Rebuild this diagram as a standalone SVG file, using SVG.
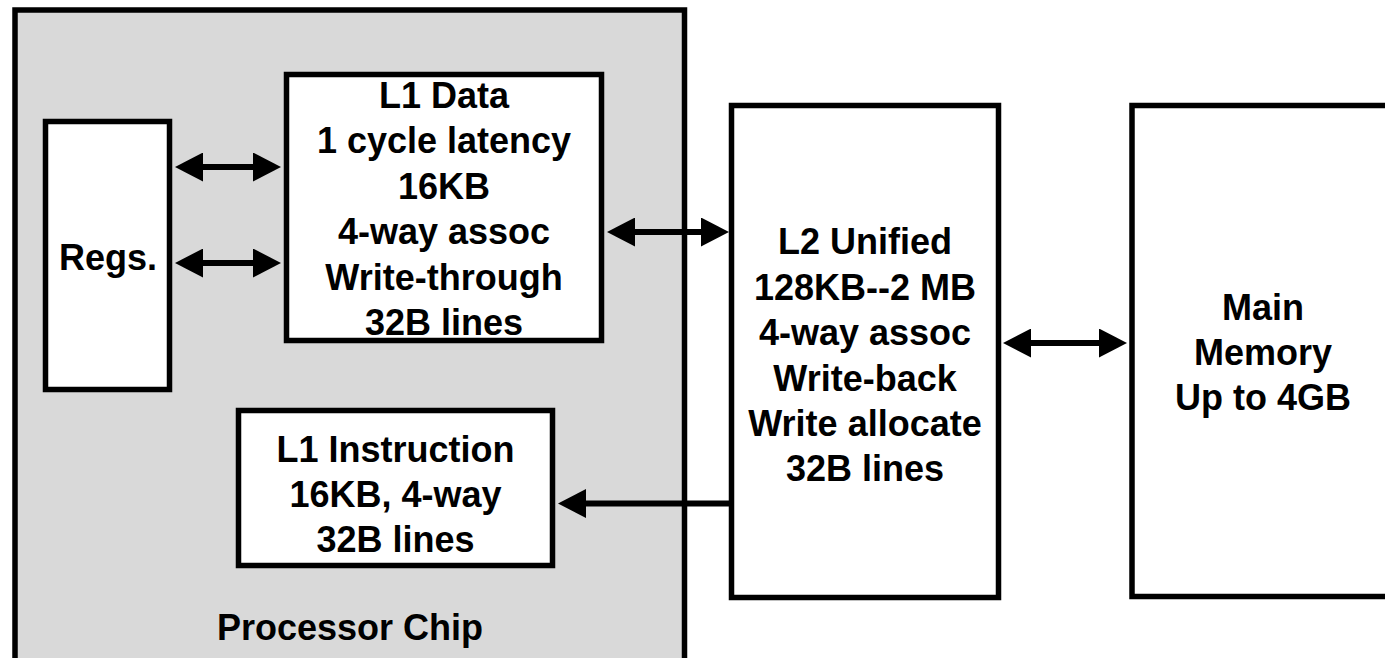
<svg xmlns="http://www.w3.org/2000/svg" width="1385" height="658" viewBox="0 0 1385 658">
  <style>
    .box { fill: #ffffff; stroke: #000000; stroke-width: 5.5; }
    .chip { fill: #d9d9d9; stroke: #000000; stroke-width: 5.5; }
    .lbl { font-family: "Liberation Sans", Arial, Helvetica, sans-serif; font-weight: bold; font-size: 36px; fill: #000000; text-anchor: middle; }
    .conn { stroke: #000000; stroke-width: 6; fill: none; }
  </style>
  <defs>
    <marker id="head" markerUnits="userSpaceOnUse" markerWidth="28" markerHeight="29" viewBox="0 0 28 29" refX="0" refY="14.5" orient="auto-start-reverse">
      <path d="M0,0 L28,14.5 L0,29 Z" fill="#000000"/>
    </marker>
  </defs>
  <rect width="1385" height="658" fill="#ffffff"/>
  <g id="processor-chip">
    <rect class="chip" x="15" y="10" width="669.5" height="700"/>
    <text class="lbl" x="350" y="640">Processor Chip</text>
  </g>
  <g id="regs">
    <rect class="box" x="45.5" y="121.5" width="124" height="268"/>
    <text class="lbl" x="108" y="270">Regs.</text>
  </g>
  <g id="l1-data">
    <rect class="box" x="286.5" y="74.5" width="315" height="266"/>
    <text class="lbl" x="444" y="108">L1 Data</text>
    <text class="lbl" x="444" y="153">1 cycle latency</text>
    <text class="lbl" x="444" y="198.5">16KB</text>
    <text class="lbl" x="444" y="244">4-way assoc</text>
    <text class="lbl" x="444" y="289.5">Write-through</text>
    <text class="lbl" x="444" y="335">32B lines</text>
  </g>
  <g id="l1-instruction">
    <rect class="box" x="238.5" y="410.5" width="314" height="155"/>
    <text class="lbl" x="395.5" y="462">L1 Instruction</text>
    <text class="lbl" x="395.5" y="507">16KB, 4-way</text>
    <text class="lbl" x="395.5" y="552">32B lines</text>
  </g>
  <g id="l2-unified">
    <rect class="box" x="731.5" y="105.5" width="267" height="492"/>
    <text class="lbl" x="865" y="254">L2 Unified</text>
    <text class="lbl" x="865" y="299.5">128KB--2 MB</text>
    <text class="lbl" x="865" y="345">4-way assoc</text>
    <text class="lbl" x="865" y="390.5">Write-back</text>
    <text class="lbl" x="865" y="436">Write allocate</text>
    <text class="lbl" x="865" y="481">32B lines</text>
  </g>
  <g id="main-memory">
    <rect class="box" x="1132" y="105.5" width="263" height="491"/>
    <text class="lbl" x="1263" y="320">Main</text>
    <text class="lbl" x="1263" y="365">Memory</text>
    <text class="lbl" x="1263" y="410">Up to 4GB</text>
  </g>
  <g id="connectors">
    <line class="conn" x1="203" y1="167" x2="253" y2="167" marker-start="url(#head)" marker-end="url(#head)"/>
    <line class="conn" x1="203" y1="263" x2="253" y2="263" marker-start="url(#head)" marker-end="url(#head)"/>
    <line class="conn" x1="635" y1="232" x2="701" y2="232" marker-start="url(#head)" marker-end="url(#head)"/>
    <line class="conn" x1="1031" y1="343" x2="1099" y2="343" marker-start="url(#head)" marker-end="url(#head)"/>
    <line class="conn" x1="731" y1="503.5" x2="586" y2="503.5" marker-end="url(#head)"/>
  </g>
</svg>
